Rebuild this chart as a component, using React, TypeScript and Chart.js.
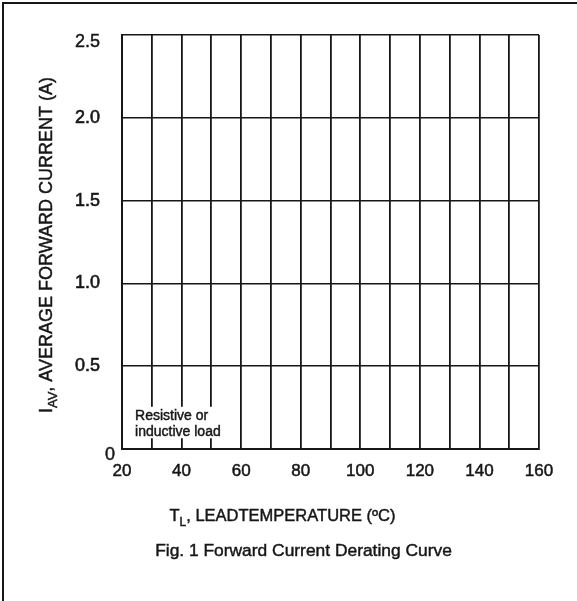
import { useEffect, useRef } from 'react';
import { Chart, registerables } from 'chart.js';

Chart.register(...registerables);

// axis ticks (gridlines every 10 degC, labels every 20)
const xTicks = [20, 30, 40, 50, 60, 70, 80, 90, 100, 110, 120, 130, 140, 150, 160];
const xLabelled = [20, 40, 60, 80, 100, 120, 140, 160];
const yTicks = [0, 0.5, 1.0, 1.5, 2.0, 2.5];

// the derating curve itself is not printed in this figure
const curveTemp: number[] = [];
const curveCurrent: number[] = [];

const noteLines = ['Resistive or', 'inductive load'];
const yTitle = ['I', 'AV', ', AVERAGE FORWARD CURRENT (A)'];
const xTitle = ['T', 'L', ', LEADTEMPERATURE (ºC)'];
const caption = 'Fig. 1 Forward Current Derating Curve';

const FONT = "'Liberation Sans', Arial, sans-serif";
const INK = '#161616';

const drawSub = (
  ctx: CanvasRenderingContext2D,
  parts: string[],
  size: number,
  cx: number,
  cy: number,
) => {
  const big = `${size}px ${FONT}`;
  const small = `${Math.round(size * 0.72)}px ${FONT}`;
  ctx.font = big;
  const w0 = ctx.measureText(parts[0]).width;
  const w2 = ctx.measureText(parts[2]).width;
  ctx.font = small;
  const w1 = ctx.measureText(parts[1]).width;
  let x = cx - (w0 + w1 + w2) / 2;
  ctx.textAlign = 'left';
  ctx.textBaseline = 'alphabetic';
  const put = (s: string, px: number, py: number) => {
    ctx.fillText(s, px, py);
    ctx.strokeText(s, px, py);
  };
  ctx.font = big;
  put(parts[0], x, cy);
  x += w0;
  ctx.font = small;
  put(parts[1], x, cy + size * 0.28);
  x += w1;
  ctx.font = big;
  put(parts[2], x, cy);
};

const figureText = {
  id: 'figureText',
  afterDraw(chart: Chart) {
    const { ctx, chartArea } = chart;
    const xs = chart.scales.x;
    const ys = chart.scales.y;
    ctx.save();
    ctx.strokeStyle = INK;
    ctx.lineWidth = 0.45;

    // note box breaks the gridlines behind it
    const bx0 = xs.getPixelForValue(23.7);
    const bx1 = xs.getPixelForValue(53.4);
    const by0 = ys.getPixelForValue(0.255);
    const by1 = ys.getPixelForValue(0.065);
    ctx.fillStyle = '#ffffff';
    ctx.fillRect(bx0, by0, bx1 - bx0, by1 - by0);
    ctx.fillStyle = INK;
    ctx.font = `14px ${FONT}`;
    ctx.textAlign = 'left';
    ctx.textBaseline = 'middle';
    noteLines.forEach((line, i) => {
      const px = xs.getPixelForValue(24.4);
      const py = ys.getPixelForValue(0.2 - i * 0.1);
      ctx.fillText(line, px, py);
      ctx.strokeText(line, px, py);
    });

    // end labels of the y axis sit a little off their gridlines
    ctx.font = `18px ${FONT}`;
    ctx.textAlign = 'right';
    const zx = chartArea.left - 7;
    const zy = ys.getPixelForValue(yTicks[0]) + 6;
    ctx.fillText('0', zx, zy);
    ctx.strokeText('0', zx, zy);
    const top = yTicks[yTicks.length - 1];
    const tx = chartArea.left - 22;
    const ty = ys.getPixelForValue(top) + 7;
    ctx.fillText(top.toFixed(1), tx, ty);
    ctx.strokeText(top.toFixed(1), tx, ty);

    // y title
    ctx.save();
    ctx.translate(chartArea.left - 70, (chartArea.top + chartArea.bottom) / 2 + 3);
    ctx.rotate(-Math.PI / 2);
    drawSub(ctx, yTitle, 18, 0, 0);
    ctx.restore();

    // x title and caption
    drawSub(ctx, xTitle, 16.5, chart.width / 2 - 6, chartArea.bottom + 72);
    ctx.font = `17.4px ${FONT}`;
    ctx.textAlign = 'center';
    ctx.textBaseline = 'middle';
    ctx.fillText(caption, chart.width / 2 + 15, chartArea.bottom + 102);
    ctx.strokeText(caption, chart.width / 2 + 15, chartArea.bottom + 102);
    ctx.restore();
  },
};

const DeratingChart = () => {
  const chartRef = useRef<HTMLCanvasElement | null>(null);
  const chartInstanceRef = useRef<Chart | null>(null);

  useEffect(() => {
    const ctx = chartRef.current?.getContext('2d');
    if (!ctx) return;

    if (chartInstanceRef.current) {
      chartInstanceRef.current.destroy();
    }

    chartInstanceRef.current = new Chart(ctx, {
      type: 'scatter',
      data: {
        datasets: [
          {
            label: 'IAV',
            data: curveTemp.map((t, i) => ({ x: t, y: curveCurrent[i] })),
            borderColor: INK,
            showLine: true,
            pointRadius: 0,
          },
        ],
      },
      options: {
        animation: false,
        responsive: true,
        maintainAspectRatio: false,
        layout: {
          padding: { left: 0, top: 35, right: 38, bottom: 0 },
        },
        plugins: {
          legend: { display: false },
          tooltip: { enabled: false },
        },
        scales: {
          x: {
            type: 'linear',
            min: 20,
            max: 160,
            afterBuildTicks: (scale: any) => {
              scale.ticks = xTicks.map((v) => ({ value: v }));
            },
            afterFit: (scale: any) => {
              scale.height = 152;
            },
            ticks: {
              autoSkip: false,
              maxRotation: 0,
              padding: 12,
              color: INK,
              textStrokeColor: INK,
              textStrokeWidth: 0.5,
              font: { family: FONT, size: 17 },
              callback: (v: any) => (xLabelled.includes(Number(v)) ? String(v) : ''),
            },
            grid: { color: INK, lineWidth: 1.8, drawTicks: false },
            border: { display: true, color: INK, width: 2 },
          },
          y: {
            type: 'linear',
            min: 0,
            max: 2.5,
            afterBuildTicks: (scale: any) => {
              scale.ticks = yTicks.map((v) => ({ value: v }));
            },
            afterFit: (scale: any) => {
              scale.width = 122;
            },
            ticks: {
              padding: 22,
              color: INK,
              textStrokeColor: INK,
              textStrokeWidth: 0.6,
              font: { family: FONT, size: 18 },
              // first and last labels are drawn by the figureText plugin
              callback: (v: any) => {
                const n = Number(v);
                if (n === yTicks[0] || n === yTicks[yTicks.length - 1]) return '';
                return n.toFixed(1);
              },
            },
            grid: { color: INK, lineWidth: 1.6, drawTicks: false },
            border: { display: true, color: INK, width: 2 },
          },
        },
      },
      plugins: [figureText],
    });

    return () => {
      if (chartInstanceRef.current) {
        chartInstanceRef.current.destroy();
        chartInstanceRef.current = null;
      }
    };
  }, []);

  return (
    <div
      style={{
        position: 'fixed',
        left: 0,
        top: 0,
        width: 577,
        height: 601,
        background: '#ffffff',
      }}
    >
      <div
        style={{
          position: 'absolute',
          left: 2,
          top: 2,
          right: 0,
          bottom: 0,
          borderTop: `2px solid ${INK}`,
          borderLeft: `2px solid ${INK}`,
        }}
      />
      <div style={{ position: 'absolute', left: 0, top: 0, width: 577, height: 601 }}>
        <canvas ref={chartRef}></canvas>
      </div>
    </div>
  );
};

export default function App() {
  return <DeratingChart />;
}
